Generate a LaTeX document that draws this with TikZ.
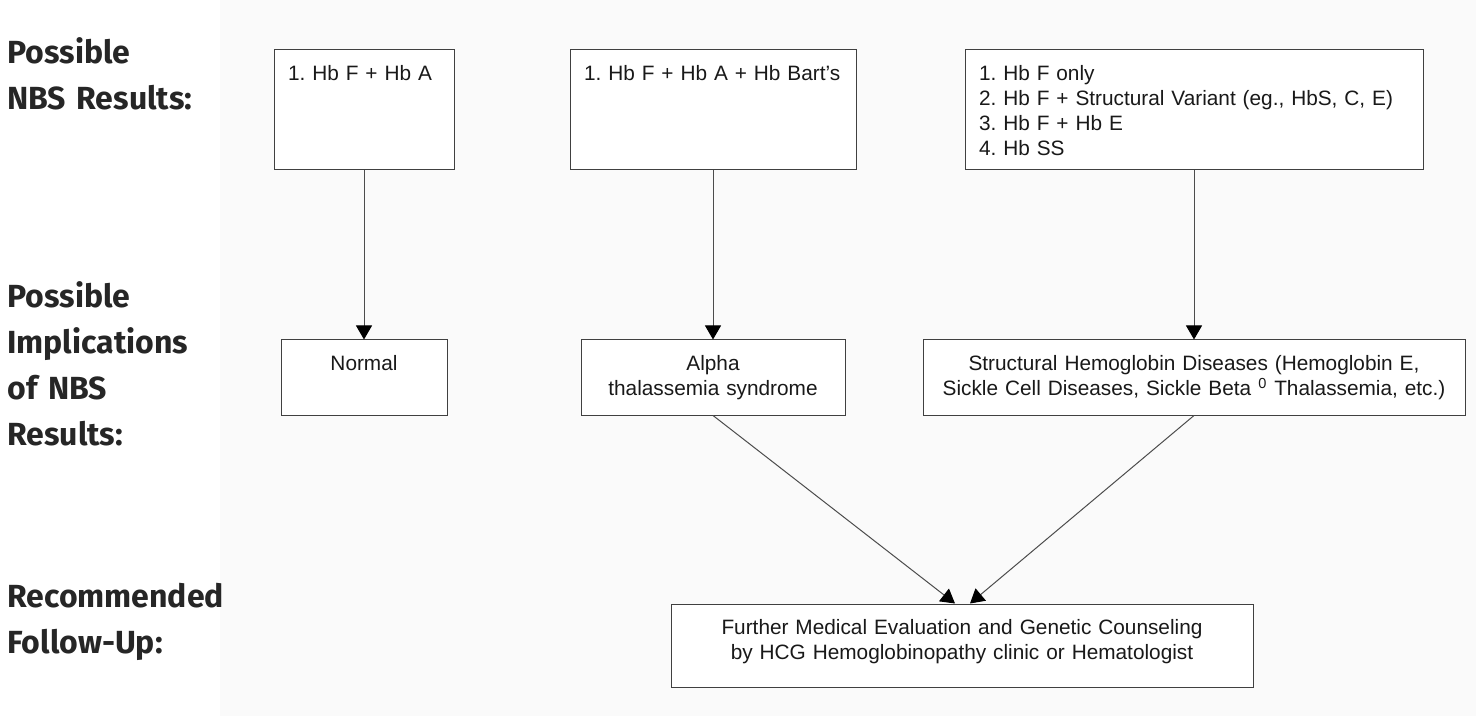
\documentclass[tikz,border=0pt]{standalone}
\usepackage{fontspec}
\setmainfont{Liberation Sans}
\newfontfamily\rowfont{Fira Sans}
\usetikzlibrary{arrows.meta, positioning}
\frenchspacing

\begin{document}
\begin{tikzpicture}[
    x=0.5pt, y=-0.5pt,
    box/.style={draw=black!75, line width=0.5pt, fill=white, inner xsep=7pt,
                inner ysep=7.7pt, text height=7.5pt, text=black!90,
                font=\fontsize{10.4}{12.5}\selectfont},
    resbox/.style={box, align=left, minimum height=60pt, text depth=37.1pt},
    impbox/.style={box, align=center, minimum height=37.5pt, text depth=14.6pt},
    fubox/.style={box, align=center, minimum height=41.5pt, text depth=18.6pt},
    rowlabel/.style={anchor=base west, inner sep=0pt, align=left, text width=120pt,
                     text=black!85, font=\rowfont\bfseries\fontsize{16}{23}\selectfont},
    arr/.style={-{Triangle[length=7pt, width=8pt, black]}, line width=0.5pt, draw=black!70},
]
    \useasboundingbox (0,0) rectangle (1476,716);
    \fill[black!2] (220,0) rectangle (1476,716);

    % Row labels
    \node[rowlabel] (lblres) at (7,64) {Possible\\NBS Results:};
    \node[rowlabel] (lblimp) at (7,307) {Possible\\Implications\\of NBS\\Results:};
    \node[rowlabel] (lblfu) at (7,607) {Recommended\\Follow-Up:};

    % Nodes
    \node[resbox, text width=76pt] (res1) at (364,110) {1. Hb F + Hb A};
    \node[resbox, text width=129pt] (res2) at (713,110) {1. Hb F + Hb A + Hb Bart's};
    \node[resbox, text width=215pt] (res3) at (1194,110)
        {1. Hb F only\\2. Hb F + Structural Variant (eg., HbS, C, E)\\3. Hb F + Hb E\\4. Hb SS};

    \node[impbox, text width=69pt, below=84.5pt of res1] (imp1) {Normal};
    \node[impbox, text width=118pt, below=84.5pt of res2] (imp2) {Alpha\\thalassemia syndrome};
    \node[impbox, text width=257pt, below=84.5pt of res3] (imp3)
        {Structural Hemoglobin Diseases (Hemoglobin E,\\Sickle Cell Diseases, Sickle Beta \textsuperscript{0} Thalassemia, etc.)};

    \node[fubox, text width=277pt] (fu) at (962,645.5)
        {Further Medical Evaluation and Genetic Counseling\\by HCG Hemoglobinopathy clinic or Hematologist};

    % Arrows
    \draw[arr] (res1) -- (imp1);
    \draw[arr] (res2) -- (imp2);
    \draw[arr] (res3) -- (imp3);
    \draw[arr] (imp2.south) -- ([xshift=-3.5pt]fu.north);
    \draw[arr] (imp3.south) -- ([xshift=4pt]fu.north);
\end{tikzpicture}
\end{document}
